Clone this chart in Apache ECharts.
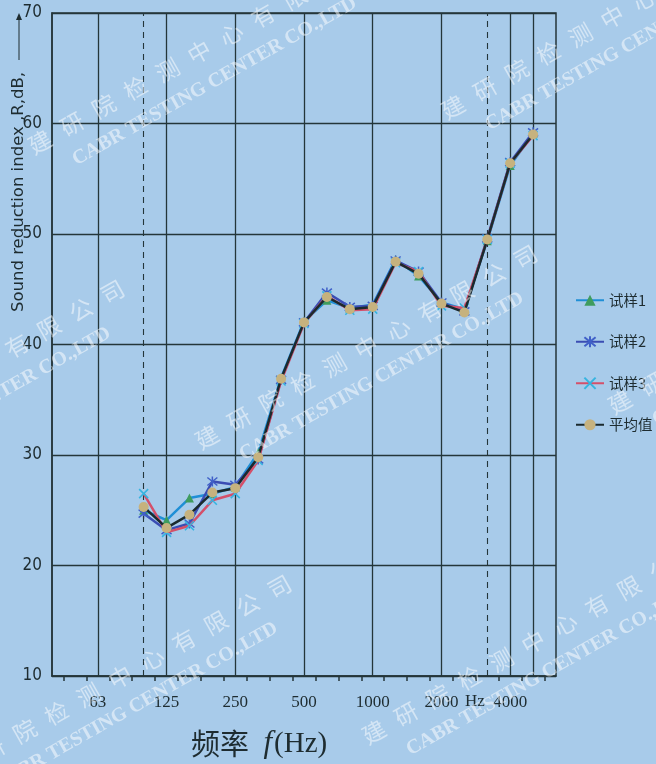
<!DOCTYPE html>
<html>
<head>
<meta charset="utf-8">
<script src="https://cdn.jsdelivr.net/npm/echarts@6/dist/echarts.min.js"></script>
<style>html,body{margin:0;padding:0;background:#a8cbea;}#c{width:656px;height:764px;}</style>
</head>
<body>
<div id="c"></div>
<script>
// ---- data ----
const categories = ['40','50','63','80','100','125','160','200','250','315','400','500','630','800','1000','1250','1600','2000','2500','3150','4000','5000','6300'];
const measuredFreqs = ['100','125','160','200','250','315','400','500','630','800','1000','1250','1600','2000','2500','3150','4000','5000'];
const sample1 = [25.0, 24.1, 26.1, 26.5, 27.1, 30.2, 37.0, 42.1, 44.0, 43.3, 43.6, 47.7, 46.2, 43.8, 43.2, 49.4, 56.2, 59.1];
const sample2 = [24.7, 23.2, 23.8, 27.6, 27.3, 29.6, 36.8, 42.0, 44.7, 43.4, 43.5, 47.6, 46.6, 43.8, 43.0, 49.6, 56.5, 59.2];
const sample3 = [26.5, 23.0, 23.6, 25.9, 26.5, 29.5, 36.7, 41.9, 44.4, 43.1, 43.2, 47.4, 46.6, 43.5, 43.3, 49.5, 56.4, 58.9];
const average = [25.3, 23.4, 24.6, 26.6, 27.0, 29.8, 36.9, 42.0, 44.3, 43.2, 43.4, 47.5, 46.4, 43.7, 42.9, 49.5, 56.4, 59.0];
const seriesNames = ['试样1', '试样2', '试样3', '平均值'];
const xTickLabels = ['63','125','250','500','1000','2000','4000'];
const solidGridFreqs = ['63','125','250','500','1000','2000','4000','5000'];
const dashedGridFreqs = ['100','3150'];
const yTicks = { min: 10, max: 70, interval: 10 };
const yTitle = 'Sound reduction index ,R,dB,';
const xTitleCn = '频率 ';
const xTitleF = 'f';
const xTitleUnit = '(Hz)';
const hzLabel = 'Hz';
const wmCn = ['建','研','院','检','测','中','心','有','限','公','司'];
const wmEn = 'CABR TESTING CENTER CO.,LTD';

const pairs = arr => measuredFreqs.map((f, i) => [f, arr[i]]);
const dark = '#1e2c30';
const gridColor = '#24363a';

// ---- watermark layout ----
const wm = [];
const ang = 29.5 * Math.PI / 180;
const ux = Math.cos(ang), uy = -Math.sin(ang);
const base = [207, 437], LA = [167, 295], LB = [-246, 330];
const inst = [[0,0],[1,0],[-1,0],[0,1],[0,-1],[-1,1],[1,-1]];
inst.forEach(([m, n]) => {
  const bx = base[0] + m * LA[0] + n * LB[0];
  const by = base[1] + m * LA[1] + n * LB[1];
  wmCn.forEach((ch, k) => {
    wm.push({ type: 'text', x: bx + k * 36.6 * ux, y: by + k * 36.6 * uy, rotation: ang, z: 100, silent: true,
      style: { text: ch, fill: 'rgba(255,255,255,0.5)', fontSize: 23, fontFamily: 'Noto Sans CJK SC', align: 'center', verticalAlign: 'middle' } });
  });
  wm.push({ type: 'text', x: bx + 34, y: by + 19, rotation: ang, z: 100, silent: true,
    style: { text: wmEn, fill: 'rgba(255,255,255,0.5)', fontSize: 20, fontWeight: 'bold', fontFamily: 'Liberation Serif', align: 'left', verticalAlign: 'middle' } });
});

const chart = echarts.init(document.getElementById('c'), null, { renderer: 'canvas' });
const lineBase = { type: 'line', xAxisIndex: 0, symbolSize: 9, emphasis: { disabled: true }, animation: false };
chart.setOption({
  backgroundColor: '#a8cbea',
  animation: false,
  grid: { left: 52, right: 100, top: 13, bottom: 88, show: true, borderColor: gridColor, borderWidth: 1.5, backgroundColor: 'transparent' },
  legend: {
    data: seriesNames, orient: 'vertical', left: 575, top: 293, padding: 0, itemWidth: 28, itemHeight: 14, itemGap: 27,
    textStyle: { fontSize: 14.5, color: dark, fontFamily: 'Noto Sans CJK SC' }
  },
  xAxis: [
    {
      type: 'category', data: categories, boundaryGap: false,
      axisLine: { lineStyle: { color: gridColor, width: 1.5 } },
      axisTick: { show: false },
      axisLabel: { interval: (i, v) => xTickLabels.includes(v), formatter: v => xTickLabels.includes(v) ? v : '',
        color: dark, fontSize: 17, fontFamily: 'Liberation Serif', margin: 18 },
      splitLine: { show: true, interval: (i, v) => solidGridFreqs.includes(v), lineStyle: { color: gridColor, width: 1.3 } }
    },
    {
      type: 'category', data: categories.slice(1), boundaryGap: true, position: 'bottom',
      axisLine: { show: false },
      axisTick: { show: true, interval: 0, alignWithLabel: true, length: 5, lineStyle: { color: gridColor, width: 1.5 } },
      axisLabel: { show: false, interval: 0 },
      splitLine: { show: false }
    }
  ],
  yAxis: {
    type: 'value', min: yTicks.min, max: yTicks.max, interval: yTicks.interval,
    axisLine: { show: true, lineStyle: { color: gridColor, width: 1.5 } },
    axisTick: { show: false },
    axisLabel: { color: dark, fontSize: 17, fontFamily: 'Liberation Sans Narrow, DejaVu Sans Condensed, sans-serif', margin: 10 },
    splitLine: { lineStyle: { color: gridColor, width: 1.3 } }
  },
  series: [
    Object.assign({}, lineBase, { name: seriesNames[0], data: pairs(sample1), symbol: 'triangle', z: 3,
      lineStyle: { color: '#1f8fd6', width: 2.5 }, itemStyle: { color: '#3f9c5e' } }),
    Object.assign({}, lineBase, { name: seriesNames[1], data: pairs(sample2), symbol: 'path://M5,0L5,10M0,1L10,9M10,1L0,9', symbolSize: 10, z: 4,
      lineStyle: { color: '#3b4db3', width: 2.5 }, itemStyle: { color: 'rgba(0,0,0,0)', borderColor: '#4060c8', borderWidth: 1.5 } }),
    Object.assign({}, lineBase, { name: seriesNames[2], data: pairs(sample3), symbol: 'path://M0,0L10,10M10,0L0,10', symbolSize: 9, z: 5,
      lineStyle: { color: '#d4506a', width: 2.5 }, itemStyle: { color: 'rgba(0,0,0,0)', borderColor: '#36b4e0', borderWidth: 1.6 } }),
    Object.assign({}, lineBase, { name: seriesNames[3], data: pairs(average), symbol: 'circle', symbolSize: 10, z: 6,
      lineStyle: { color: '#1b2a2e', width: 2.5 }, itemStyle: { color: '#c6b27e' },
      markLine: { silent: true, symbol: ['none', 'none'], label: { show: false }, animation: false,
        lineStyle: { type: [6, 5], color: gridColor, width: 1.1 },
        data: dashedGridFreqs.map(f => ({ xAxis: f })) } })
  ],
  graphic: { elements: [
    { type: 'text', x: 19, y: 192, rotation: Math.PI / 2, silent: true,
      style: { text: yTitle, fill: dark, fontSize: 16.5, fontFamily: 'DejaVu Sans', align: 'center', verticalAlign: 'middle' } },
    { type: 'line', silent: true, shape: { x1: 19, y1: 60, x2: 19, y2: 16 }, style: { stroke: dark, lineWidth: 1 } },
    { type: 'polygon', silent: true, shape: { points: [[19, 13], [16, 20], [22, 20]] }, style: { fill: dark } },
    { type: 'text', x: 475, y: 702, silent: true,
      style: { text: hzLabel, fill: dark, fontSize: 17, fontFamily: 'Liberation Serif', align: 'center', verticalAlign: 'middle' } },
    { type: 'text', x: 191, y: 744, silent: true,
      style: { text: '{a|' + xTitleCn + '}{b|' + xTitleF + '}{c|' + xTitleUnit + '}', verticalAlign: 'middle', align: 'left',
        rich: { a: { fontSize: 29, fontFamily: 'Noto Sans CJK SC', fill: dark, color: dark },
                b: { fontSize: 31, fontStyle: 'italic', fontFamily: 'Liberation Serif', fill: dark, color: dark, padding: [0, 2, 0, 8] },
                c: { fontSize: 29, fontFamily: 'Liberation Serif', fill: dark, color: dark } } } }
  ].concat(wm) }
});
</script>
</body>
</html>
